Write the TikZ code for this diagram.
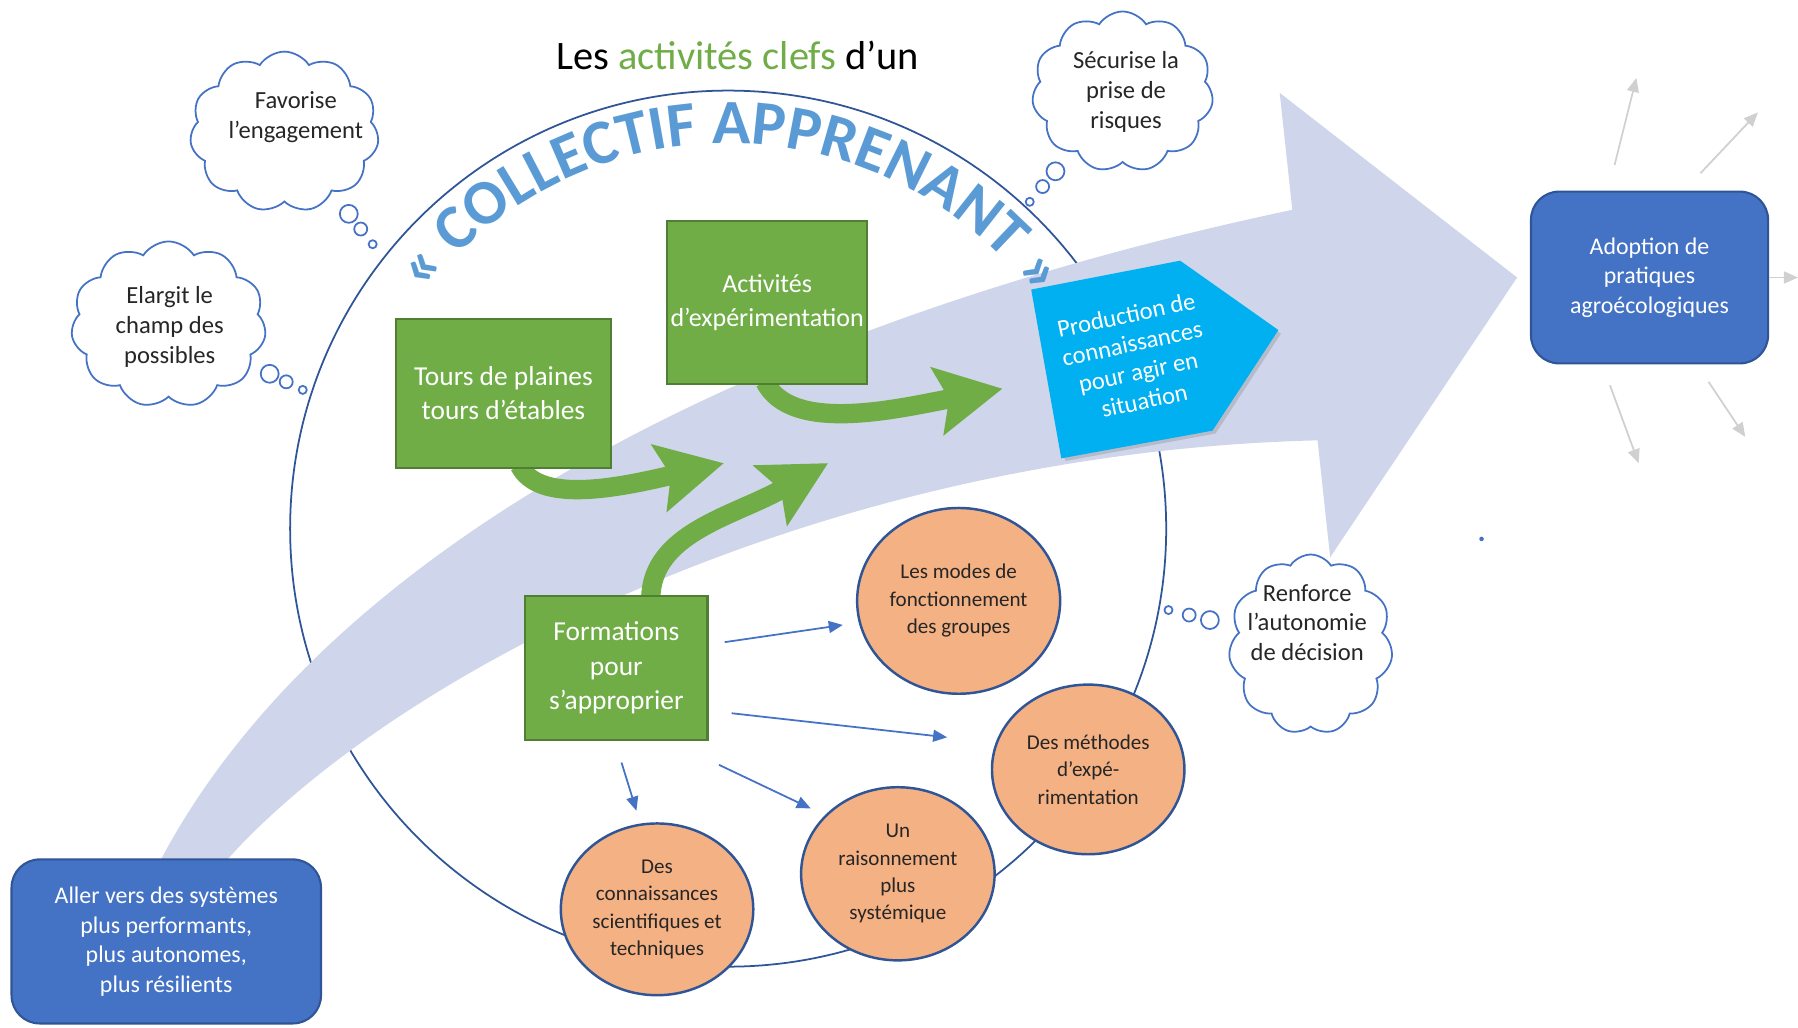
\documentclass[tikz,border=0pt]{standalone}
\usepackage{fontspec}
\setmainfont{Carlito}
\usetikzlibrary{arrows.meta,calc,shapes.geometric,shapes.symbols,shapes.callouts,decorations.text,shadows}

\definecolor{vert}{HTML}{70AD47}
\definecolor{vertbord}{HTML}{507E32}
\definecolor{lavande}{HTML}{CFD5EA}
\definecolor{bleuf}{HTML}{2F5597}
\definecolor{bleub}{HTML}{4472C4}
\definecolor{bleuciel}{HTML}{00B0F0}
\definecolor{saumon}{HTML}{F4B183}
\definecolor{bleutexte}{HTML}{5B9BD5}
\definecolor{gris}{HTML}{D0D0D0}
\definecolor{texte}{HTML}{262626}

\begin{document}
\begin{tikzpicture}[x=0.011467cm, y=-0.011467cm,
  boitev/.style={draw=vertbord, fill=vert, text=white, line width=0.6pt, align=center,
    font=\fontsize{7.8}{9.8}\selectfont},
  boiteb/.style={draw=bleuf, fill=bleub, text=white, line width=0.6pt, align=center,
    rounded corners=8pt, font=\fontsize{6.8}{8.4}\selectfont},
  rond/.style={ellipse, draw=bleuf, fill=saumon, line width=0.7pt, align=center,
    text=texte, inner sep=0pt, font=\fontsize{6}{7.8}\selectfont},
  nuage/.style={cloud callout, draw=bleub, fill=white, line width=0.5pt, cloud puffs=11,
    cloud puff arc=115, cloud ignores aspect, callout pointer segments=3,
    callout pointer start size=6.5pt, callout pointer end size=2.3pt},
  txtnuage/.style={align=center, text=texte, font=\fontsize{7}{8.5}\selectfont},
  flechev/.style={draw=vert, line width=5.5pt,
    -{Stealth[length=19pt, width=20pt, inset=3.6pt, line width=0pt]}},
  flecheb/.style={draw=bleub, line width=0.5pt, -{Triangle[length=4pt, width=3.4pt]}},
  flecheg/.style={draw=gris, line width=0.5pt, -{Triangle[length=4pt, width=3.4pt]}}
]
\useasboundingbox[fill=white] (0,0) rectangle (1568,896);

% Cercle du collectif
\draw[bleuf, line width=0.5pt] (635,461) circle[radius=382];

% Grande fleche
\fill[lavande] (130,770) .. controls (260,500) and (620,290) .. (1127,183)
  -- (1116,81) -- (1323,242) -- (1160,486) -- (1149,384)
  .. controls (700,395) and (320,600) .. (185,765) -- cycle;

% Production de connaissances
\filldraw[fill=bleuciel, draw=bleuciel, drop shadow={shadow xshift=1pt, shadow yshift=-1pt, opacity=0.3}]
  (900,253) -- (1029,228) -- (1114,288) -- (1057,375) -- (926,399) -- cycle;
\node[rotate=12, text=white, align=center, font=\fontsize{7}{8.3}\selectfont] (prod) at (990,312)
  {Production de\\connaissances\\pour agir en\\situation};

% Titre en arc
\path[decorate, decoration={text along path, text align={fit to path}, text color=bleutexte,
  text={|\fontsize{18}{18}\selectfont\bfseries|« COLLECTIF APPRENANT »}}]
  (635,461) ++(-142:336) arc[start angle=-142, end angle=-38, radius=336];

% Fleches vertes
\coordinate (pointeA) at (631,404);
\coordinate (pointeB) at (722,404);
\coordinate (pointeC) at (874,339);
\node[boitev, minimum width=61.3pt, minimum height=42.4pt] (tours) at (439,343) {};
\node[boitev, minimum width=56.1pt, minimum height=46.3pt] (activ) at (669,264) {};
\node[boitev, minimum width=51.9pt, minimum height=40.8pt] (form) at (537.5,582.5) {};
\draw[flechev] ($(tours.south)+(14,-3)$) .. controls (470,440) and (540,425) .. (pointeA);
\draw[flechev] ($(form.north)+(30,3)$) .. controls (568,465) and (640,450) .. (pointeB);
\draw[flechev] ($(activ.south)+(-2,-3)$) .. controls (690,378) and (780,357) .. (pointeC);

% Activites clefs
\node[boitev, minimum width=61.3pt, minimum height=42.4pt] at (tours) {Tours de plaines\\tours d’étables};
\node[boitev, minimum width=56.1pt, minimum height=46.3pt, inner xsep=1pt,
  font=\fontsize{7.4}{9.5}\selectfont] at (activ) {Activités\\d’expérimentation};
\node[boitev, minimum width=51.9pt, minimum height=40.8pt] at (form) {Formations\\pour\\s’approprier};

% Ce que l'on s'approprie
\node[rond, minimum width=57.8pt, minimum height=52.9pt] (modes) at (836,524)
  {Les modes de\\fonctionnement\\des groupes};
\node[rond, minimum width=54.8pt, minimum height=48.3pt] (methodes) at (949,671)
  {Des méthodes\\d’expé-\\rimentation};
\node[rond, minimum width=55.1pt, minimum height=49.3pt] (raison) at (783,762)
  {Un\\raisonnement\\plus\\systémique};
\node[rond, minimum width=54.8pt, minimum height=48.9pt] (connais) at (573,793)
  {Des\\connaissances\\scientifiques et\\techniques};

\coordinate (fa) at (632,560); \coordinate (fb) at (735,545);
\coordinate (fc) at (638,622); \coordinate (fd) at (826,643);
\coordinate (fe) at (542,665); \coordinate (ff) at (555,707);
\coordinate (fg) at (627,667); \coordinate (fh) at (707,705);
\draw[flecheb] (fa) -- (fb);
\draw[flecheb] (fc) -- (fd);
\draw[flecheb] (fe) -- (ff);
\draw[flecheb] (fg) -- (fh);

% Bulles
\node[nuage, minimum width=53.8pt, minimum height=45.7pt, callout absolute pointer={(325,213)}] (nuageA) at (248,115) {};
\node[txtnuage] at (258,102) {Favorise\\l’engagement};
\node[nuage, minimum width=55.5pt, minimum height=47.3pt, callout absolute pointer={(264,340)}] (nuageB) at (147,283) {};
\node[txtnuage] at (148,285) {Elargit le\\champ des\\possibles};
\node[nuage, minimum width=51.6pt, minimum height=45.7pt, callout absolute pointer={(898,176)}] (nuageC) at (979,80) {};
\node[txtnuage] at (982,80) {Sécurise la\\prise de\\risques};
\node[nuage, minimum width=46.7pt, minimum height=51.2pt, callout absolute pointer={(1019,532)}] (nuageD) at (1143,562) {};
\node[txtnuage] at (1140,543) {Renforce\\l’autonomie\\de décision};

% Depart et arrivee
\node[boiteb, minimum width=88.1pt, minimum height=46.7pt] (aller) at (145,821)
  {Aller vers des systèmes\\plus performants,\\plus autonomes,\\plus résilients};
\node[boiteb, minimum width=67.5pt, minimum height=48.9pt] (adopt) at (1438.5,242)
  {Adoption de\\pratiques\\agroécologiques};

\coordinate (ga) at (1408,144); \coordinate (gb) at (1427,68);
\coordinate (gc) at (1483,151); \coordinate (gd) at (1533,98);
\coordinate (ge) at (1568,242);
\coordinate (gf) at (1404,336); \coordinate (gg) at (1429,404);
\coordinate (gh) at (1490,333); \coordinate (gi) at (1522,381);
\draw[flecheg] (ga) -- (gb);
\draw[flecheg] (gc) -- (gd);
\draw[flecheg] (adopt.east) -- (ge);
\draw[flecheg] (gf) -- (gg);
\draw[flecheg] (gh) -- (gi);
\fill[bleub] (1292,470) circle[radius=2];

% Titre
\node[font=\fontsize{11.5}{13}\selectfont] (titre) at (643,48)
  {Les \textcolor{vert}{activités clefs} d’un};
\end{tikzpicture}
\end{document}
